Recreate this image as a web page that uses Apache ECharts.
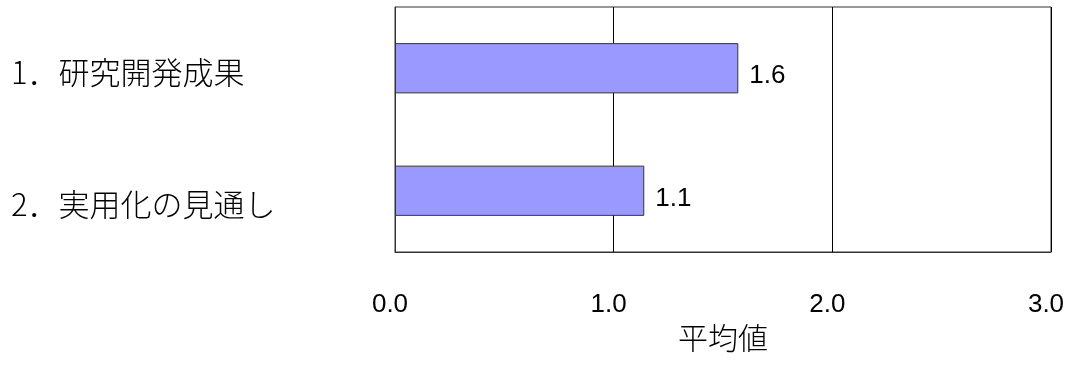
<!DOCTYPE html>
<html>
<head>
<meta charset="utf-8">
<script src="https://cdn.jsdelivr.net/npm/echarts@6/dist/echarts.min.js"></script>
<style>
html,body{margin:0;padding:0;background:#fff;}
#chart{width:1073px;height:365px;}
</style>
</head>
<body>
<div id="chart"></div>
<script>
var categories = ['1．研究開発成果', '2．実用化の見通し'];
var values = [1.57, 1.14];
var xTicks = [0, 1, 2, 3];
var axisName = '平均値';

var chart = echarts.init(document.getElementById('chart'), null, {renderer: 'canvas'});
var cjk = '"Noto Sans CJK JP", sans-serif';
var latin = '"Liberation Sans", Arial, sans-serif';

chart.setOption({
  animation: false,
  backgroundColor: '#fff',
  grid: {
    left: 395, right: 22, top: 7, bottom: 113,
    show: true, borderColor: '#333', borderWidth: 1, backgroundColor: 'transparent'
  },
  xAxis: {
    type: 'value',
    min: xTicks[0], max: xTicks[xTicks.length - 1], interval: 1,
    name: axisName,
    nameLocation: 'middle',
    nameGap: 65,
    nameTextStyle: {fontFamily: cjk, fontSize: 30, fontWeight: 300, color: '#000'},
    axisLine: {show: true, lineStyle: {color: '#333', width: 1}},
    axisTick: {show: false},
    splitLine: {show: true, lineStyle: {color: '#000', width: 1}},
    axisLabel: {
      formatter: function (v) { return v.toFixed(1); },
      fontFamily: latin, fontSize: 26, color: '#000', margin: 40,
      padding: [0, 10, 0, 0]
    }
  },
  yAxis: {
    type: 'category',
    inverse: true,
    data: categories,
    axisLine: {show: true, lineStyle: {color: '#333', width: 1}},
    axisTick: {show: false},
    axisLabel: {
      align: 'left',
      margin: 384,
      color: '#000',
      fontFamily: cjk,
      fontSize: 31,
      formatter: function (v, i) { return '{c' + i + '|' + v + '}'; },
      rich: {
        c0: {fontFamily: cjk, fontSize: 31, fontWeight: 300, color: '#000', padding: [7, 0, 0, 0]},
        c1: {fontFamily: cjk, fontSize: 31, fontWeight: 300, color: '#000', padding: [26, 0, 0, 0]}
      }
    }
  },
  series: [{
    type: 'bar',
    data: values,
    barWidth: '41%',
    itemStyle: {color: '#9999FF', borderColor: '#333', borderWidth: 1},
    label: {
      show: true,
      position: 'right',
      distance: 11,
      offset: [0, 8],
      formatter: function (p) { return p.value.toFixed(1); },
      fontFamily: latin, fontSize: 26, color: '#000'
    }
  }]
});
</script>
</body>
</html>
